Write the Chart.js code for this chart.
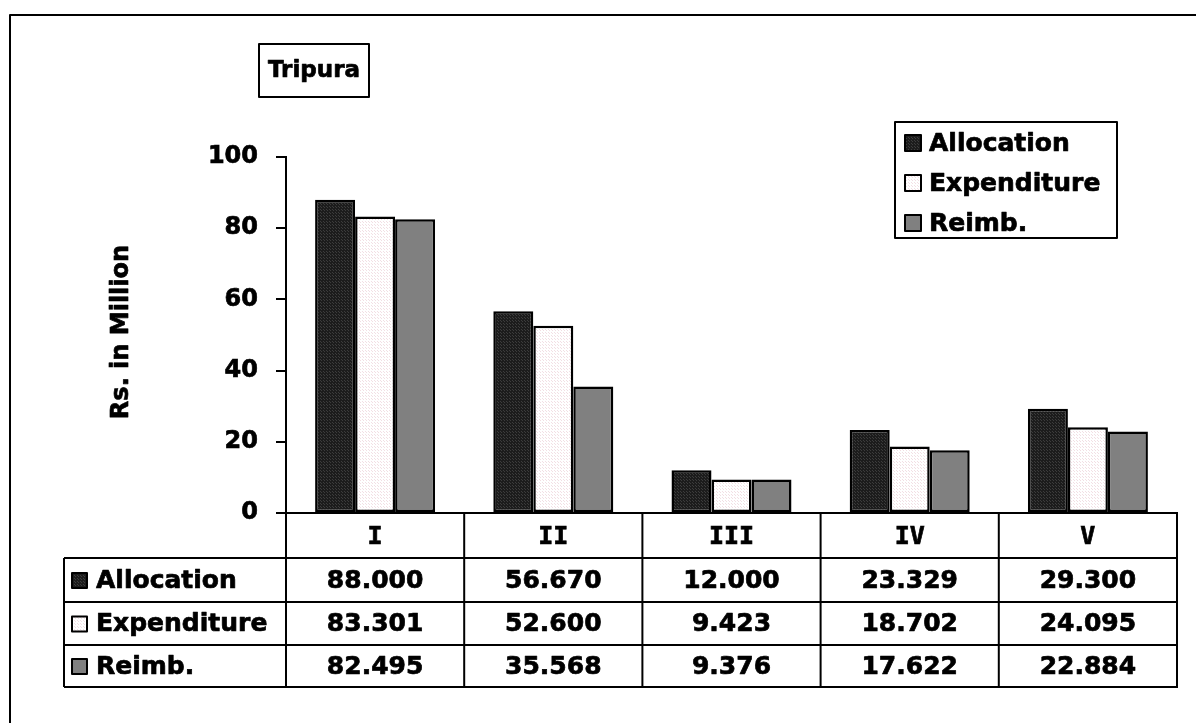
<!DOCTYPE html>
<html>
<head>
<meta charset="utf-8">
<script src="https://cdn.jsdelivr.net/npm/chart.js@4.4.1/dist/chart.umd.min.js"></script>
<style>
  html, body { margin: 0; padding: 0; background: #ffffff; }
  #c { display: block; }
</style>
</head>
<body>
<canvas id="c" width="1196" height="723"></canvas>
<script>
// Phase-wise funds, Tripura (Rs. in Million)
const categories   = ['I', 'II', 'III', 'IV', 'V'];
const allocation   = [88.000, 56.670, 12.000, 23.329, 29.300];
const expenditure  = [83.301, 52.600, 9.423, 18.702, 24.095];
const reimbursement = [82.495, 35.568, 9.376, 17.622, 22.884];
const seriesNames  = ['Allocation', 'Expenditure', 'Reimb.'];
const yTicks       = [0, 20, 40, 60, 80, 100];
const chartTitle   = 'Tripura';
const yTitle       = 'Rs. in Million';

const FONT = '"DejaVu Sans", Verdana, sans-serif';
const STROKE = 0.7;   // slight outline to thicken the bold glyphs
const canvas = document.getElementById('c');
const ctx = canvas.getContext('2d');

// small repeating textures for the bar fills
function makePattern(bg, dot) {
  const t = document.createElement('canvas');
  t.width = 3; t.height = 3;
  const g = t.getContext('2d');
  g.fillStyle = bg; g.fillRect(0, 0, 3, 3);
  g.fillStyle = dot; g.fillRect(0, 0, 1, 1); g.fillRect(2, 2, 1, 1);
  return ctx.createPattern(t, 'repeat');
}
const fills = [
  makePattern('#1c1c1c', '#3c3c3c'),
  makePattern('#ffffff', '#f2dfe4'),
  '#808080'
];
const seriesData = [allocation, expenditure, reimbursement];

function boldText(c, text, x, y) {
  c.lineWidth = STROKE;
  c.strokeStyle = '#000';
  c.fillStyle = '#000';
  c.strokeText(text, x, y);
  c.fillText(text, x, y);
}

function swatch(c, fill, x, y, size) {
  c.fillStyle = fill;
  c.fillRect(x, y, size, size);
  c.lineWidth = 2;
  c.strokeStyle = '#000';
  c.strokeRect(x, y, size, size);
}

// frame, title box, legend box, y title and the data table below the plot
const decorations = {
  id: 'decorations',
  afterDraw(chart) {
    const c = chart.ctx;
    const xs = chart.scales.x;
    const area = chart.chartArea;
    const cw = (xs.right - xs.left) / categories.length;
    c.save();
    c.strokeStyle = '#000';
    c.fillStyle = '#000';
    c.lineJoin = 'round';

    // outer frame
    c.lineWidth = 2;
    c.strokeRect(10, 15, 1200, 720);

    // title box
    c.lineWidth = 2;
    c.strokeRect(259, 44, 110, 53);
    c.font = 'bold 23px ' + FONT;
    c.textAlign = 'center';
    c.textBaseline = 'middle';
    boldText(c, chartTitle, 314, 71);

    // y axis title
    c.save();
    c.translate(122, 332);
    c.rotate(-Math.PI / 2);
    c.font = 'bold 24px ' + FONT;
    boldText(c, yTitle, 0, 0);
    c.restore();

    // legend
    c.lineWidth = 2;
    c.strokeStyle = '#000';
    c.strokeRect(895, 122, 222, 116);
    c.font = 'bold 25px ' + FONT;
    c.textAlign = 'left';
    seriesNames.forEach((name, i) => {
      const cy = 143 + i * 40;
      swatch(c, fills[i], 905, cy - 8, 16);
      boldText(c, name, 929, cy + 1);
    });

    // data table
    const rows = [area.bottom, area.bottom + 45, area.bottom + 89, area.bottom + 132, area.bottom + 174];
    const tableLeft = 64;
    c.strokeStyle = '#000';
    c.lineWidth = 2;
    c.beginPath();
    // y axis continues through the table
    c.moveTo(area.left, area.bottom); c.lineTo(area.left, rows[4]);
    for (let i = 1; i <= categories.length; i++) {
      const x = xs.left + i * cw;
      c.moveTo(x, area.bottom); c.lineTo(x, rows[4]);
    }
    c.moveTo(area.left, rows[0]); c.lineTo(xs.right, rows[0]);
    for (let r = 1; r < rows.length; r++) {
      c.moveTo(tableLeft, rows[r]); c.lineTo(xs.right + 1, rows[r]);
    }
    c.moveTo(tableLeft, rows[1]); c.lineTo(tableLeft, rows[4]);
    c.stroke();

    c.font = 'bold 25px ' + FONT;
    c.textBaseline = 'middle';
    seriesNames.forEach((name, s) => {
      const cy = (rows[s + 1] + rows[s + 2]) / 2;
      swatch(c, fills[s], 72, cy - 7, 15);
      c.textAlign = 'left';
      boldText(c, name, 96, cy + 1);
      c.textAlign = 'center';
      seriesData[s].forEach((v, i) => {
        boldText(c, v.toFixed(3), xs.getPixelForValue(i), cy + 1);
      });
    });
    c.restore();
  }
};

new Chart(canvas, {
  type: 'bar',
  data: {
    labels: categories,
    datasets: seriesNames.map((name, i) => ({
      label: name,
      data: seriesData[i],
      backgroundColor: fills[i],
      borderColor: '#000',
      borderWidth: 2.5,
      borderSkipped: false,
      categoryPercentage: 0.6734,
      barPercentage: 1.0
    }))
  },
  options: {
    responsive: false,
    animation: false,
    devicePixelRatio: 1,
    layout: { padding: { top: 157, right: 19, left: 0, bottom: 0 } },
    plugins: {
      legend: { display: false },
      title: { display: false },
      tooltip: { enabled: false }
    },
    scales: {
      x: {
        afterFit: s => { s.height = 210; },
        grid: { display: false, drawTicks: false },
        border: { display: true, color: '#000', width: 2 },
        ticks: {
          color: '#000',
          padding: 9,
          textStrokeColor: '#000',
          textStrokeWidth: STROKE,
          font: { family: '"DejaVu Sans Mono", ' + FONT, size: 25, weight: 'bold' }
        }
      },
      y: {
        min: 0,
        max: 100,
        afterFit: s => { s.width = 286; },
        afterBuildTicks: s => { s.ticks = yTicks.map(v => ({ value: v })); },
        grid: { drawOnChartArea: false, drawTicks: true, tickLength: 10, color: '#000', lineWidth: 2 },
        border: { display: true, color: '#000', width: 2 },
        ticks: {
          color: '#000',
          padding: 18,
          textStrokeColor: '#000',
          textStrokeWidth: STROKE,
          font: { family: FONT, size: 24, weight: 'bold' }
        }
      }
    }
  },
  plugins: [decorations]
});
</script>
</body>
</html>
